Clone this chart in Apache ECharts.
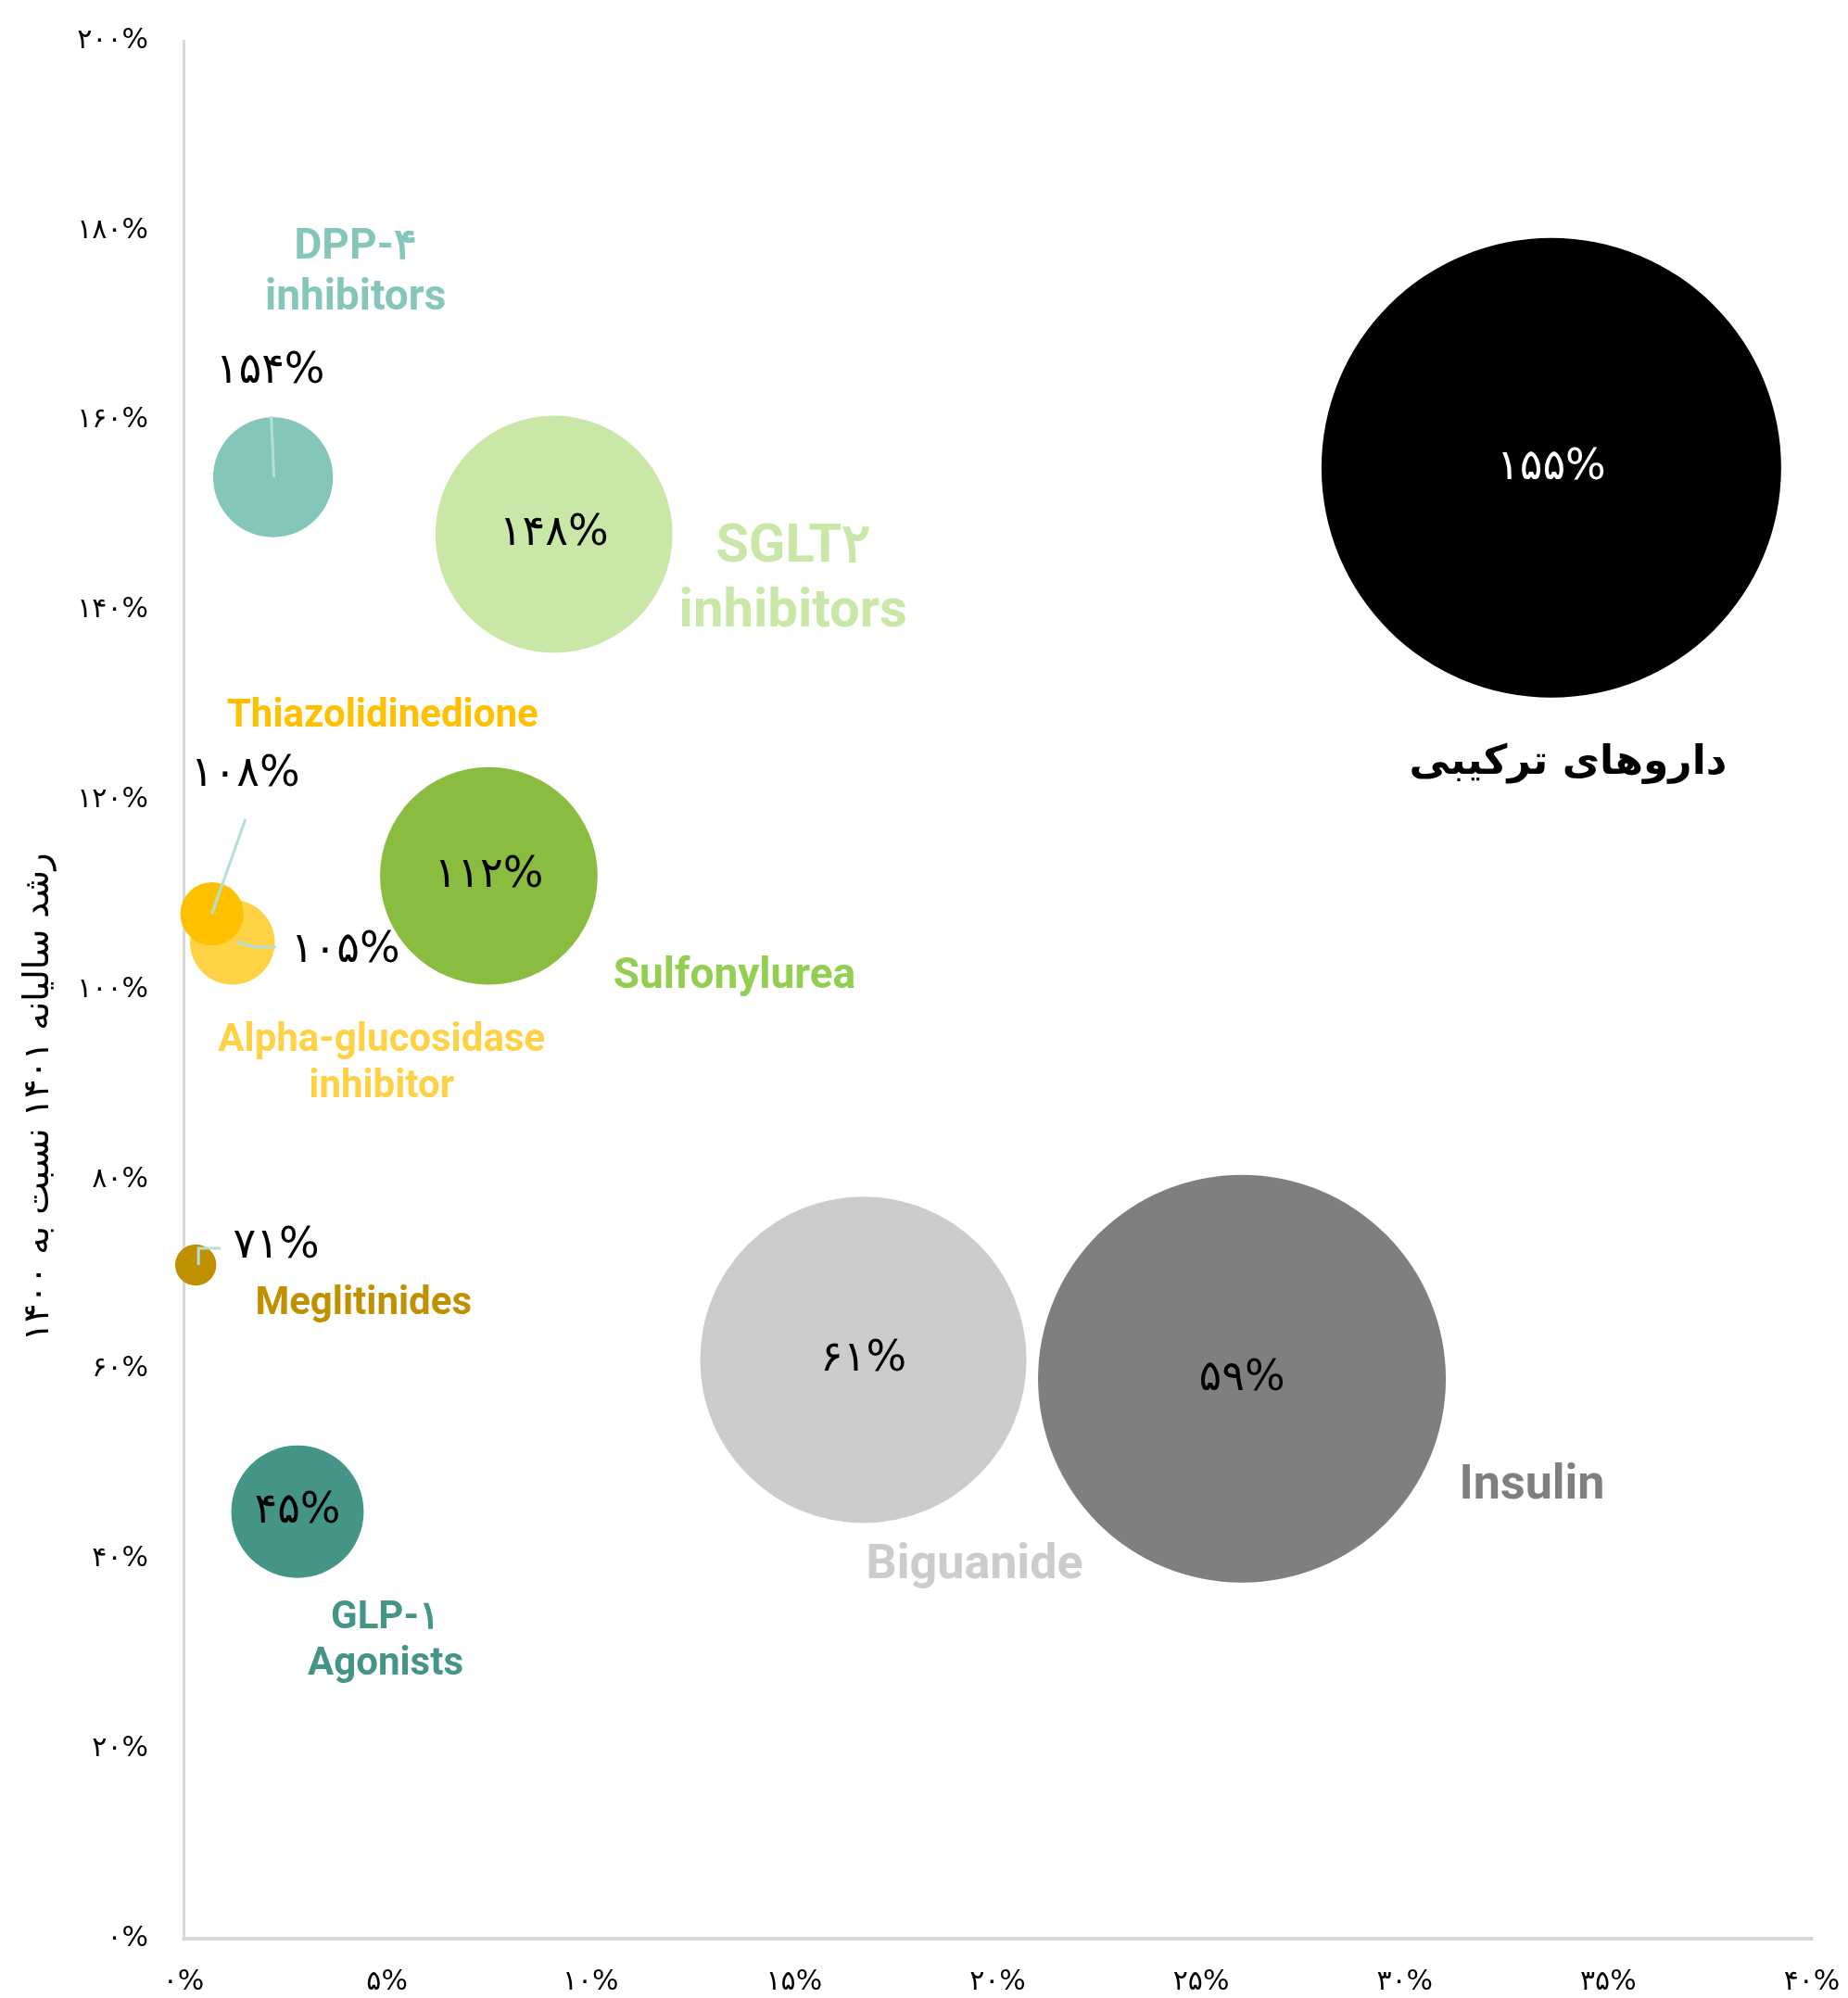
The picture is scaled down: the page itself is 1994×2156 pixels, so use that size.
<!DOCTYPE html>
<html>
<head>
<meta charset="utf-8">
<script src="https://cdn.jsdelivr.net/npm/echarts@6.0.0/dist/echarts.min.js"></script>
<style>
  html, body { margin: 0; padding: 0; background: #fff; }
  #chart { width: 1994px; height: 2156px; }
</style>
</head>
<body>
<div id="chart"></div>
<script>
// drug classes, drawn in this order (later ones on top)
const drugNames = [
    'Alpha-glucosidase\ninhibitor',
    'Thiazolidinedione',
    'Meglitinides',
    'DPP-۴\ninhibitors',
    'GLP-۱\nAgonists',
    'Sulfonylurea',
    'SGLT۲\ninhibitors',
    'Biguanide',
    'Insulin',
    'داروهای ترکیبی',
]
// x: share (%), y: growth 1401 vs 1400 (%), bubble: relative sales volume
const marketShare = [1.2, 0.7, 0.3, 2.2, 2.8, 7.5, 9.1, 16.7, 26.0, 33.6]
const growthRate = [105, 108, 71, 154, 45, 112, 148, 61, 59, 155]
const salesVolume = [3.4, 1.9, 0.8, 6.8, 8.3, 22.4, 26.6, 50.4, 78.7, 100]

const xTickMax = 40
const yTickMax = 200

const palette = {
    'Alpha-glucosidase\ninhibitor': { fill: '#FFD246', text: '#FFD246' },
    'Thiazolidinedione': { fill: '#FFC000', text: '#FFC000' },
    'Meglitinides': { fill: '#BF9000', text: '#BF9000' },
    'DPP-۴\ninhibitors': { fill: '#84C6BA', text: '#84C6BA' },
    'GLP-۱\nAgonists': { fill: '#459488', text: '#459488' },
    'Sulfonylurea': { fill: '#8ABD3F', text: '#92CF51' },
    'SGLT۲\ninhibitors': { fill: '#C9E7A7', text: '#C9E7A7' },
    'Biguanide': { fill: '#CCCCCC', text: '#CCCCCC' },
    'Insulin': { fill: '#7F7F7F', text: '#7F7F7F' },
    'داروهای ترکیبی': { fill: '#000000', text: '#000000', value: '#FFFFFF' },
}

// value labels that sit outside their small bubble: label centre and
// leader line points, in px relative to the bubble centre
const callouts = {
    'Alpha-glucosidase\ninhibitor': { label: [122, 9], path: [[5, 0], [24, 5], [47, 5]] },
    'Thiazolidinedione': { label: [36, -150], path: [[0, 0], [36, -102]] },
    'Meglitinides': { label: [87, -20], path: [[3, 0], [3, -18], [27, -18]] },
    'DPP-۴\ninhibitors': { label: [-3, -114], path: [[1, 0], [-2, -66]] },
}
// category name labels, relative to bubble centre
const nameLabels = {
    'Alpha-glucosidase\ninhibitor': { offset: [161, 132], size: 42 },
    'Thiazolidinedione': { offset: [184, -213], size: 42 },
    'Meglitinides': { offset: [181, 43], size: 42 },
    'DPP-۴\ninhibitors': { offset: [89, -220], size: 46 },
    'GLP-۱\nAgonists': { offset: [95, 140], size: 42 },
    'Sulfonylurea': { offset: [265, 109], size: 46 },
    'SGLT۲\ninhibitors': { offset: [258, 50], size: 58 },
    'Biguanide': { offset: [120, 223], size: 52 },
    'Insulin': { offset: [313, 116], size: 52 },
    'داروهای ترکیبی': { offset: [18, 319], size: 44 },
}

const faDigits = '۰۱۲۳۴۵۶۷۸۹'
const fa = s => String(s).replace(/\d/g, d => faDigits[d])
const pct = v => fa(v) + '%'
const digitFont = 'DejaVu Sans'
const valueSize = 46

const chart = echarts.init(document.getElementById('chart'))

const bubbleData = drugNames.map((n, i) => ({
    name: n,
    value: [marketShare[i], growthRate[i], salesVolume[i]],
    itemStyle: { color: palette[n].fill },
    label: { show: !callouts[n], color: palette[n].value || '#000' },
}))

const calloutNames = drugNames.filter(n => callouts[n])
const calloutData = calloutNames.map(n => {
    const i = drugNames.indexOf(n)
    return { name: n, value: [marketShare[i], growthRate[i]] }
})

const nameData = drugNames.map((n, i) => ({
    name: n,
    value: [marketShare[i], growthRate[i]],
    label: {
        offset: nameLabels[n].offset,
        color: palette[n].text,
        fontSize: nameLabels[n].size,
        lineHeight: Math.round(nameLabels[n].size * 1.2),
        fontFamily: /[a-z]/i.test(n) ? 'Roboto' : digitFont,
    },
}))

chart.setOption({
    animation: false,
    grid: { left: 198, right: 39, top: 44, bottom: 64 },
    xAxis: {
        type: 'value',
        min: 0,
        max: xTickMax,
        interval: 5,
        splitLine: { show: false },
        axisTick: { show: false },
        axisLine: { show: true, lineStyle: { color: '#D9D9D9', width: 4 } },
        axisLabel: {
            formatter: pct,
            color: '#000',
            fontSize: 30,
            fontFamily: digitFont,
            margin: 32,
        },
    },
    yAxis: {
        type: 'value',
        min: 0,
        max: yTickMax,
        interval: 20,
        splitLine: { show: false },
        axisTick: { show: false },
        axisLine: { show: true, lineStyle: { color: '#D9D9D9', width: 3 } },
        axisLabel: {
            formatter: pct,
            color: '#000',
            fontSize: 30,
            fontFamily: digitFont,
            margin: 38,
            padding: [0, 0, 4, 0],
        },
        name: 'رشد سالیانه ۱۴۰۱ نسبت به ۱۴۰۰',
        nameLocation: 'middle',
        nameRotate: 90,
        nameGap: 137,
        nameTextStyle: {
            color: '#000',
            fontSize: 38,
            fontFamily: digitFont,
            padding: [0, 232, 0, 0],
        },
    },
    series: [
        {
            name: 'bubbles',
            type: 'scatter',
            data: bubbleData,
            symbolSize: val => Math.sqrt(val[2]) * 49.6,
            itemStyle: { opacity: 1 },
            label: {
                position: 'inside',
                formatter: p => pct(p.value[1]),
                fontSize: valueSize,
                fontFamily: digitFont,
                textBorderWidth: 0,
            },
            emphasis: { disabled: true },
        },
        {
            name: 'callouts',
            type: 'custom',
            data: calloutData,
            z: 3,
            renderItem(params, api) {
                const lay = callouts[calloutNames[params.dataIndex]]
                const c = api.coord([api.value(0), api.value(1)])
                return {
                    type: 'group',
                    children: [
                        {
                            type: 'polyline',
                            shape: { points: lay.path.map(p => [c[0] + p[0], c[1] + p[1]]) },
                            style: { stroke: '#B3DFD8', lineWidth: 3, fill: null },
                        },
                        {
                            type: 'text',
                            x: c[0] + lay.label[0],
                            y: c[1] + lay.label[1],
                            style: {
                                text: pct(api.value(1)),
                                fill: '#000',
                                font: valueSize + 'px "' + digitFont + '"',
                                align: 'center',
                                verticalAlign: 'middle',
                            },
                        },
                    ],
                }
            },
        },
        {
            name: 'names',
            type: 'scatter',
            data: nameData,
            symbolSize: 1,
            itemStyle: { color: 'rgba(0,0,0,0)', opacity: 1 },
            label: {
                show: true,
                position: 'inside',
                formatter: p => p.name,
                fontWeight: 'bold',
                align: 'center',
                textBorderWidth: 0,
            },
            emphasis: { disabled: true },
            z: 4,
        },
    ],
})
</script>
</body>
</html>
